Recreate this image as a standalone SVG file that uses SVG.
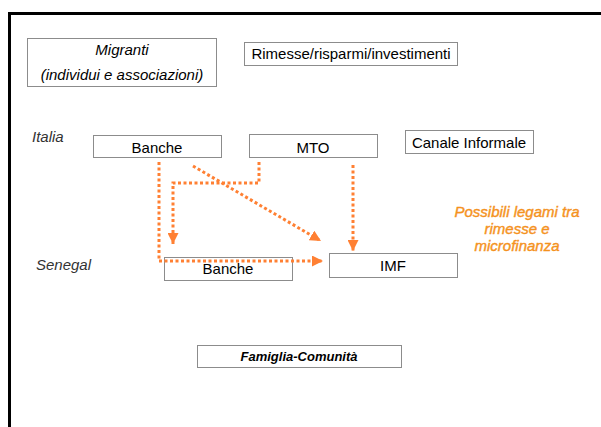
<svg xmlns="http://www.w3.org/2000/svg" width="601" height="427" viewBox="0 0 601 427">
<defs>
<style>
.box{fill:#fff;stroke:#8c8c8c;stroke-width:1}
.t{font-family:"Liberation Sans",Arial,sans-serif;font-size:15px;fill:#000;text-anchor:middle}
.i{font-style:italic}
.lbl{font-family:"Liberation Sans",Arial,sans-serif;font-size:15px;font-style:italic;fill:#333}
.or{font-family:"Liberation Sans",Arial,sans-serif;font-size:15px;font-style:italic;fill:#F7941D;stroke:#F39020;stroke-width:0.4;text-anchor:middle}
.c{fill:none;stroke:#FF8033;stroke-width:3;stroke-dasharray:3 2.5}
</style>
<marker id="ah" markerUnits="userSpaceOnUse" markerWidth="11" markerHeight="11" refX="10" refY="5" orient="auto" viewBox="0 0 10 10">
<path d="M0,0 L10,5 L0,10 z" fill="#FF8033"/>
</marker>
</defs>
<rect width="601" height="427" fill="#fff"/>
<path d="M9.5,427 V13.5 H601" fill="none" stroke="#000" stroke-width="3"/>

<g id="migranti"><rect class="box" x="27.5" y="38.5" width="189" height="48"/><text class="t i" x="122" y="55">Migranti</text><text class="t i" x="122" y="80">(individui e associazioni)</text></g>
<g id="rimesse"><rect class="box" x="244.5" y="42.5" width="213" height="23"/><text class="t" x="351" y="59">Rimesse/risparmi/investimenti</text></g>
<text class="lbl" x="32" y="142">Italia</text>
<text class="lbl" x="36" y="270">Senegal</text>
<g id="banche-it"><rect class="box" x="93.5" y="135.5" width="128" height="22"/><text class="t" x="157" y="153">Banche</text></g>
<g id="mto"><rect class="box" x="249.5" y="134.5" width="128" height="23"/><text class="t" x="313" y="153">MTO</text></g>
<g id="canale"><rect class="box" x="405.5" y="130.5" width="128" height="23"/><text class="t" x="469" y="148">Canale Informale</text></g>
<g id="banche-sn"><rect class="box" x="164.5" y="257.5" width="128" height="23"/><text class="t" x="228" y="274">Banche</text></g>
<g id="imf"><rect class="box" x="329.5" y="253.5" width="128" height="24"/><text class="t" x="393" y="271">IMF</text></g>
<g id="famiglia"><rect class="box" x="197.5" y="345.5" width="204" height="22"/><text class="t" x="299" y="361" style="font-size:13px;font-weight:bold;font-style:italic">Famiglia-Comunità</text></g>
<g id="nota"><text class="or" x="517" y="217">Possibili legami tra</text><text class="or" x="517" y="234">rimesse e</text><text class="or" x="517" y="251">microfinanza</text></g>

<g id="connectors">
<path class="c" d="M159,162 V261 H323" marker-end="url(#ah)"/>
<path class="c" d="M259,162 V183 H173 V244" marker-end="url(#ah)"/>
<path class="c" d="M193,166 L321,241" marker-end="url(#ah)"/>
<path class="c" d="M353,165 V251" marker-end="url(#ah)"/>
</g>
</svg>
